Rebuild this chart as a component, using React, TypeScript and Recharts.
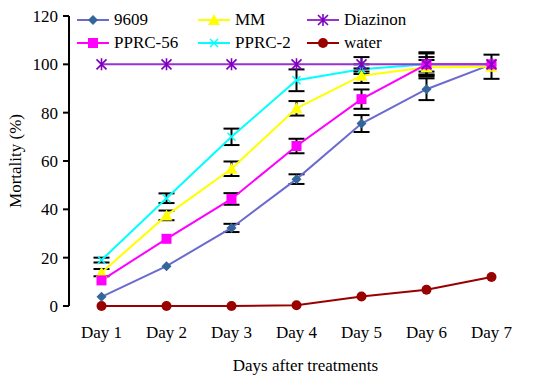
import React from 'react'
import { LineChart, Line, XAxis, YAxis, ErrorBar } from 'recharts'

const days = ['Day 1', 'Day 2', 'Day 3', 'Day 4', 'Day 5', 'Day 6', 'Day 7']
const s9609 = [3.8, 16.5, 32.3, 52.5, 75.5, 89.7, 100]
const e9609 = [null, null, 1.7, 2, 3.5, 4.5, null]
const pprc56 = [10.6, 27.8, 44.3, 66.2, 85.6, 100, 100]
const ePprc56 = [null, null, 2.4, 3, 4, 5, null]
const mm = [13.8, 37.5, 56.8, 81.8, 95.3, 98.8, 99]
const eMm = [1.5, 2, 3, 3, 3, 3, 5]
const pprc2 = [19, 44.6, 70, 93.4, 98, 100, 100]
const ePprc2 = [1, 2, 3.4, 4.5, 2, 3, null]
const diazinon = [100, 100, 100, 100, 100, 100, 100]
const eDiazinon = [null, null, null, null, 3, 4.5, null]
const water = [0, 0, 0, 0.3, 3.9, 6.7, 12]
const yTicks = [0, 20, 40, 60, 80, 100, 120]
const bounds = [0, 1, 2, 3, 4, 5, 6, 7]

const data = days.map((day, i) => ({
  day,
  s9609: s9609[i], e9609: e9609[i],
  pprc56: pprc56[i], ePprc56: ePprc56[i],
  mm: mm[i], eMm: eMm[i],
  pprc2: pprc2[i], ePprc2: ePprc2[i],
  diazinon: diazinon[i], eDiazinon: eDiazinon[i],
  water: water[i],
}))

const FONT = "'Liberation Serif', Tinos, 'Times New Roman', Times, 'DejaVu Serif', serif"

type Shape = 'diamond' | 'square' | 'triangle' | 'cross' | 'star' | 'circle'

function Marker({ shape, cx, cy, color }: { shape: Shape; cx: number; cy: number; color: string }) {
  if (shape === 'diamond') {
    const r = 5
    return <path d={`M${cx},${cy - r}L${cx + r},${cy}L${cx},${cy + r}L${cx - r},${cy}Z`} fill={color} />
  }
  if (shape === 'square') return <rect x={cx - 5} y={cy - 5} width={10} height={10} fill={color} />
  if (shape === 'triangle') {
    return <path d={`M${cx},${cy - 6}L${cx + 6},${cy + 5}L${cx - 6},${cy + 5}Z`} fill={color} />
  }
  if (shape === 'cross') {
    const r = 4
    return <path d={`M${cx - r},${cy - r}L${cx + r},${cy + r}M${cx + r},${cy - r}L${cx - r},${cy + r}`} stroke={color} strokeWidth={1.5} />
  }
  if (shape === 'star') {
    const r = 5
    return (
      <path
        d={`M${cx - r},${cy - r}L${cx + r},${cy + r}M${cx + r},${cy - r}L${cx - r},${cy + r}M${cx},${cy - r - 1}L${cx},${cy + r + 1}`}
        stroke={color}
        strokeWidth={1.6}
      />
    )
  }
  return <circle cx={cx} cy={cy} r={5} fill={color} />
}

const dot = (shape: Shape, color: string) => (p: any) => (
  <Marker key={p.index} shape={shape} cx={p.cx} cy={p.cy} color={color} />
)

const legendItems: { name: string; line: string; marker: string; shape: Shape }[] = [
  { name: '9609', line: '#6B6BCF', marker: '#33669A', shape: 'diamond' },
  { name: 'PPRC-56', line: '#FF00FF', marker: '#FF00FF', shape: 'square' },
  { name: 'MM', line: '#FFFF00', marker: '#FFFF00', shape: 'triangle' },
  { name: 'PPRC-2', line: '#00FFFF', marker: '#00FFFF', shape: 'cross' },
  { name: 'Diazinon', line: '#9933CC', marker: '#7F00BF', shape: 'star' },
  { name: 'water', line: '#990000', marker: '#990000', shape: 'circle' },
]

function ChartLegend() {
  const cols = [77, 198, 307]
  return (
    <div style={{ position: 'absolute', left: 0, top: 0, fontFamily: FONT, fontSize: 17 }}>
      {legendItems.map((it, i) => {
        const col = Math.floor(i / 2)
        const row = i % 2
        return (
          <div
            key={it.name}
            style={{ position: 'absolute', left: cols[col], top: 9 + row * 23, display: 'flex', alignItems: 'center', whiteSpace: 'nowrap', lineHeight: '22px' }}
          >
            <svg width={32} height={14} style={{ marginRight: 5 }}>
              <line x1={0} y1={7} x2={32} y2={7} stroke={it.line} strokeWidth={2} />
              <Marker shape={it.shape} cx={16} cy={7} color={it.marker} />
            </svg>
            <span>{it.name}</span>
          </div>
        )
      })}
    </div>
  )
}

const errProps = { width: 8, stroke: '#000', strokeWidth: 2 }
const textStyle = { fill: '#000', fontSize: 17, fontFamily: FONT }

export default function App() {
  return (
    <div style={{ position: 'absolute', left: 0, top: 0, width: 555, height: 377, background: '#fff', fontFamily: FONT }}>
      <LineChart width={555} height={377} data={data} margin={{ top: 16, right: 5, bottom: 0, left: 0 }} style={{ fontFamily: FONT }}>
        <XAxis
          xAxisId="bounds"
          type="number"
          domain={[0, 7.4]}
          ticks={bounds}
          tick={false}
          height={0}
          axisLine={{ stroke: '#000', strokeWidth: 2 }}
          tickLine={{ stroke: '#000', strokeWidth: 2 }}
          tickSize={7}
          allowDataOverflow
        />
        <XAxis
          xAxisId="cat"
          dataKey="day"
          scale="band"
          padding={{ left: 0, right: 26 }}
          height={71}
          axisLine={false}
          tickLine={false}
          tickMargin={14}
          tick={{ ...textStyle, style: { fontFamily: FONT } }}
          interval={0}
          label={{ value: 'Days after treatments', position: 'insideBottom', offset: 6, dx: -4, ...textStyle, style: { fontFamily: FONT } }}
        />
        <YAxis
          domain={[0, 120]}
          ticks={yTicks}
          width={69}
          axisLine={{ stroke: '#000', strokeWidth: 2 }}
          tickLine={{ stroke: '#000', strokeWidth: 2 }}
          tickSize={6}
          tickMargin={5}
          tick={{ ...textStyle, style: { fontFamily: FONT } }}
          label={{ value: 'Mortality (%)', angle: -90, position: 'insideLeft', offset: 15, ...textStyle, style: { textAnchor: 'middle', fontFamily: FONT } }}
        />
        <Line xAxisId="cat" dataKey="water" stroke="#990000" strokeWidth={2} dot={dot('circle', '#990000')} isAnimationActive={false} />
        <Line xAxisId="cat" dataKey="s9609" stroke="#6B6BCF" strokeWidth={2} dot={dot('diamond', '#33669A')} isAnimationActive={false}>
          <ErrorBar dataKey="e9609" {...errProps} />
        </Line>
        <Line xAxisId="cat" dataKey="pprc2" stroke="#00FFFF" strokeWidth={2} dot={dot('cross', '#00FFFF')} isAnimationActive={false}>
          <ErrorBar dataKey="ePprc2" {...errProps} />
        </Line>
        <Line xAxisId="cat" dataKey="mm" stroke="#FFFF00" strokeWidth={2} dot={dot('triangle', '#FFFF00')} isAnimationActive={false}>
          <ErrorBar dataKey="eMm" {...errProps} />
        </Line>
        <Line xAxisId="cat" dataKey="pprc56" stroke="#FF00FF" strokeWidth={2} dot={dot('square', '#FF00FF')} isAnimationActive={false}>
          <ErrorBar dataKey="ePprc56" {...errProps} />
        </Line>
        <Line xAxisId="cat" dataKey="diazinon" stroke="#9933CC" strokeWidth={2} dot={dot('star', '#7F00BF')} isAnimationActive={false}>
          <ErrorBar dataKey="eDiazinon" {...errProps} />
        </Line>
      </LineChart>
      <ChartLegend />
    </div>
  )
}
